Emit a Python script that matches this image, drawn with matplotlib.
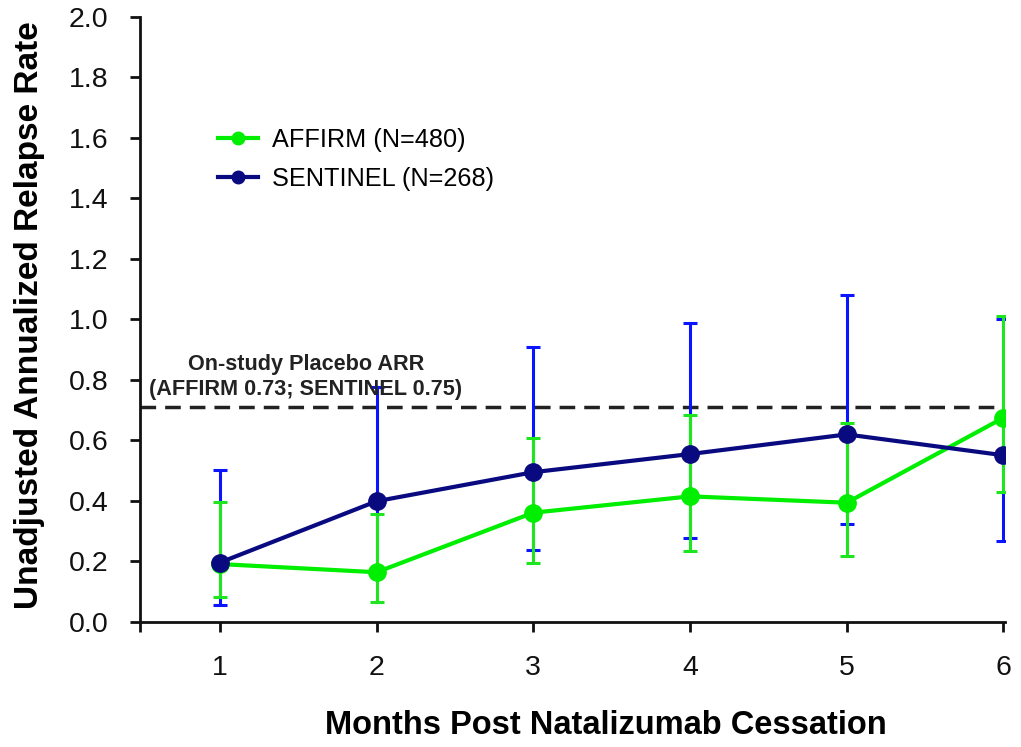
import matplotlib
matplotlib.use("Agg")
import matplotlib.pyplot as plt
import matplotlib.transforms as mtrans
import numpy as np

plt.rcParams['font.family'] = ['Liberation Sans', 'DejaVu Sans']

months = [1, 2, 3, 4, 5, 6]
affirm = [0.19, 0.163, 0.36, 0.414, 0.393, 0.674]
affirm_lo = [0.08, 0.064, 0.192, 0.233, 0.216, 0.428]
affirm_hi = [0.395, 0.357, 0.606, 0.682, 0.658, 1.01]
sentinel = [0.195, 0.398, 0.494, 0.554, 0.619, 0.55]
sentinel_lo = [0.053, 0.17, 0.238, 0.275, 0.321, 0.266]
sentinel_hi = [0.50, 0.775, 0.907, 0.987, 1.08, 1.0]
placebo_arr = 0.71
yticks = [0.0, 0.2, 0.4, 0.6, 0.8, 1.0, 1.2, 1.4, 1.6, 1.8, 2.0]

fig = plt.figure(figsize=(10.21, 7.47), dpi=100)
ax = fig.add_axes([140/1021, 1-621.5/747, 865/1021, 604.5/747])

a = np.array(affirm); s = np.array(sentinel)
s_err = [s - np.array(sentinel_lo), np.array(sentinel_hi) - s]
a_err = [a - np.array(affirm_lo), np.array(affirm_hi) - a]

ax.errorbar(months, sentinel, yerr=s_err, fmt='none', ecolor='#0a14ff',
            elinewidth=2.2, capsize=4.8, capthick=2.2, zorder=2)
ax.errorbar(months, affirm, yerr=a_err, fmt='none', ecolor='#1ee61e',
            elinewidth=2.2, capsize=4.8, capthick=2.2, zorder=2.5)
ax.plot(months, affirm, color='#00ee00', lw=3, marker='o', ms=12.5,
        label='AFFIRM (N=480)', zorder=3)
ax.plot(months, sentinel, color='#0a0a80', lw=3, marker='o', ms=12.5,
        label='SENTINEL (N=268)', zorder=4)

ax.axhline(placebo_arr, color='#222222', lw=2.5, ls=(0, (4.5, 2.6)), zorder=1)
pix = mtrans.Affine2D().scale(1, -1).translate(0, 747)
fig.text(306, 377, 'On-study Placebo ARR\n(AFFIRM 0.73; SENTINEL 0.75)',
         transform=pix, ha='center', va='center', fontsize=15.6,
         fontweight='bold', linespacing=1.2, color='#222222')

ax.set_xlim(0.49, 6.01)
ax.set_ylim(0, 2.0)
ax.set_xticks([0.49] + months)
ax.set_xticklabels([''] + [str(m) for m in months])
ax.set_yticks(yticks)
ax.set_yticklabels([f'{v:.1f}' for v in yticks])
ax.tick_params(axis='both', direction='out', length=7, width=2,
               labelsize=20.5, colors='#111111')
ax.tick_params(axis='y', pad=15.5)
ax.tick_params(axis='x', pad=17)
for sp in ['top', 'right']:
    ax.spines[sp].set_visible(False)
for sp in ['left', 'bottom']:
    ax.spines[sp].set_linewidth(2)
    ax.spines[sp].set_color('#111111')

ax.set_xlabel('Months Post Natalizumab Cessation', fontsize=23.5,
              fontweight='bold', va='center')
ax.set_ylabel('Unadjusted Annualized Relapse Rate', fontsize=24,
              fontweight='bold', va='center')
ax.xaxis.set_label_coords((606-140)/865, (621-725)/604.5)
ax.yaxis.set_label_coords((30-140)/865, (621-315)/604.5)

leg = ax.legend(loc='upper left', bbox_to_anchor=((218-140)/865, (621-127)/604.5),
                frameon=False, fontsize=18.2, handlelength=1.6,
                handletextpad=0.55, labelspacing=0.6, borderaxespad=0,
                borderpad=0)
for h in leg.legend_handles:
    h.set_markersize(9)

fig.savefig('out.png', dpi=100)
